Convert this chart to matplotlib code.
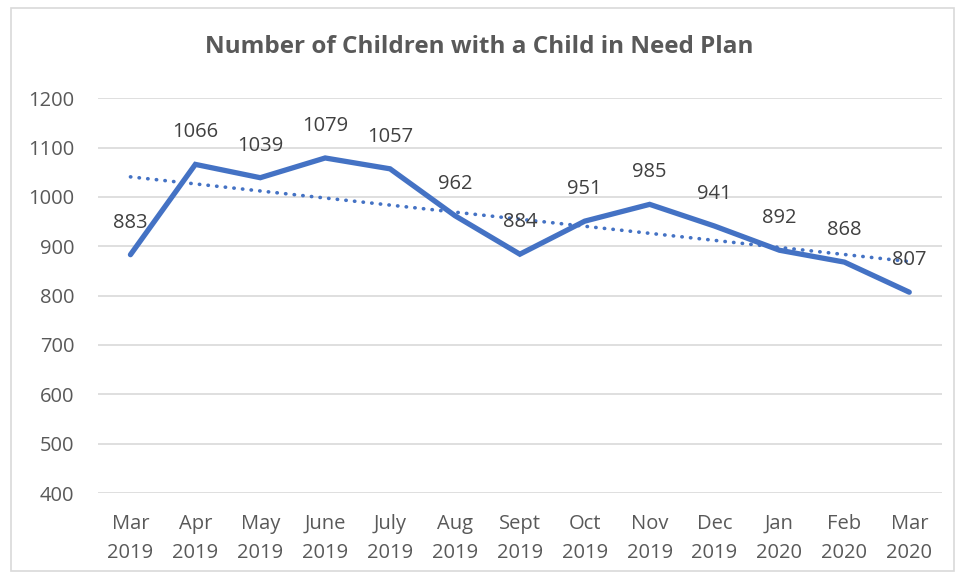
import matplotlib.pyplot as plt
import numpy as np
from matplotlib.patches import Rectangle

months = ["Mar\n2019", "Apr\n2019", "May\n2019", "June\n2019", "July\n2019", "Aug\n2019",
          "Sept\n2019", "Oct\n2019", "Nov\n2019", "Dec\n2019", "Jan\n2020", "Feb\n2020", "Mar\n2020"]
children = [883, 1066, 1039, 1079, 1057, 962, 884, 951, 985, 941, 892, 868, 807]
y_ticks = [400, 500, 600, 700, 800, 900, 1000, 1100, 1200]

blue = "#4472C4"
grey = "#595959"
plt.rcParams['font.family'] = ['Open Sans', 'DejaVu Sans']

fig = plt.figure(figsize=(9.58, 5.78), dpi=100)
ax = fig.add_axes([0.1023, 0.147, 0.8807, 0.683])

x = np.arange(len(children))
ax.plot(x, children, color=blue, linewidth=3.8, solid_capstyle='round', solid_joinstyle='miter', zorder=3)

# linear trendline
slope, intercept = np.polyfit(x, children, 1)
ax.plot(x, slope * x + intercept, color=blue, linewidth=2.6, linestyle=(0, (0.1, 2.3)),
        dash_capstyle='round', zorder=4)

for xi, v in zip(x, children):
    ax.annotate(str(v), (xi, v), xytext=(0, 23), textcoords='offset points',
                ha='center', va='center', fontsize=14.5, color="#404040", zorder=5)

ax.set_xlim(-0.5, len(children) - 0.5)
ax.set_ylim(400, 1200)
ax.set_yticks(y_ticks)
ax.set_xticks(x)
ax.set_xticklabels(months, linespacing=1.6)
ax.tick_params(length=0, labelsize=14.5, labelcolor=grey)
ax.tick_params(axis='y', pad=17)
ax.tick_params(axis='x', pad=15)
ax.grid(axis='y', color="#D9D9D9", linewidth=1.2)
ax.set_axisbelow(True)
for s in ax.spines.values():
    s.set_visible(False)

fig.text(0.5, 0.918, "Number of Children with a Child in Need Plan", ha='center', va='center',
         fontsize=17.5, fontweight='bold', color=grey)

fig.patches.append(Rectangle((0.011, 0.012), 0.985, 0.975, transform=fig.transFigure,
                             fill=False, edgecolor="#D9D9D9", linewidth=1.2))

fig.savefig("out.png", dpi=100)
